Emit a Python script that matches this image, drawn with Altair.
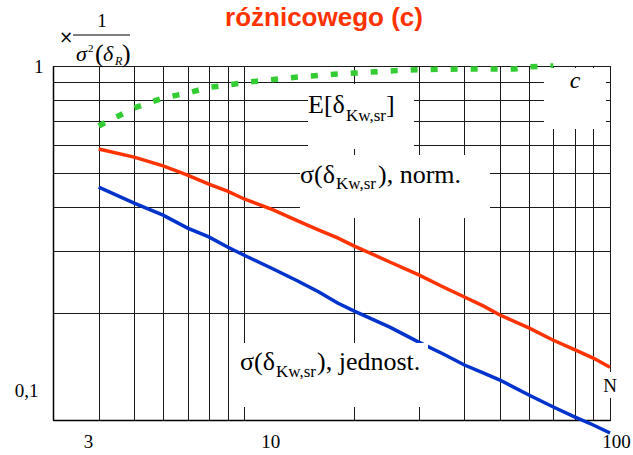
import altair as alt
import pandas as pd

# Number of samples N at which the standard-deviation curves are evaluated
N = [4, 5, 6, 7, 8, 9, 10, 12, 14, 16, 18, 20, 25, 30, 35, 40, 45, 50, 60, 70, 80, 90, 100]
sigma_norm = [0.583, 0.553, 0.522, 0.492, 0.464, 0.443, 0.421, 0.392, 0.365, 0.344, 0.327,
              0.310, 0.2795, 0.257, 0.2376, 0.2226, 0.210, 0.198, 0.182, 0.168, 0.158, 0.1496, 0.141]
sigma_jednost = [0.455, 0.410, 0.379, 0.3485, 0.329, 0.308, 0.292, 0.267, 0.247, 0.230, 0.214,
                 0.203, 0.183, 0.166, 0.1536, 0.143, 0.1358, 0.1297, 0.1177, 0.1088, 0.1020, 0.0968, 0.0919]

# Mean value curve
N_mean = [4, 5, 6, 7, 8, 9, 10, 12, 14, 16, 18, 20, 25, 30, 40, 50, 55, 60, 70]
mean_E = [0.677, 0.761, 0.812, 0.839, 0.870, 0.884, 0.898, 0.916, 0.931, 0.940, 0.949,
          0.955, 0.968, 0.977, 0.981, 0.981, 0.981, 0.995, 1.0]

# Grid positions and the labelled ticks
x_grid = [3, 4, 5, 6, 7, 8, 9, 10, 20, 30, 40, 50, 60, 70, 80, 90, 100]
y_grid = [0.1, 0.2, 0.3, 0.4, 0.5, 0.6, 0.7, 0.8, 0.9, 1.0]

W, H = 557, 354          # plot area
OX, OY = 53, 66          # plot origin on the page
SERIF = "Liberation Serif"

x_scale = alt.Scale(type="log", domain=[3, 100], nice=False)
y_scale = alt.Scale(type="log", domain=[0.1, 1], nice=False)

x_axis = alt.Axis(
    values=x_grid, title=None, grid=True, ticks=False,
    gridColor="#1a1a1a", gridWidth=1, gridOpacity=1,
    domainColor="black", domainWidth=1.5,
    labelExpr="datum.value == 3 || datum.value == 10 || datum.value == 100 ? datum.label : ''",
    format="d", labelFont=SERIF, labelFontSize=19, labelColor="black",
    labelPadding=12, labelBaseline="top", labelFlush=False, labelOverlap=False, labelBound=False,
    labelOffset={"condition": [{"test": "datum.value == 3", "value": 35},
                               {"test": "datum.value == 10", "value": 26}],
                 "value": 6},
)
y_axis = alt.Axis(
    values=y_grid, title=None, grid=True, ticks=False,
    gridColor="#1a1a1a", gridWidth=1, gridOpacity=1,
    domainColor="black", domainWidth=1.5,
    labelExpr="datum.value == 1 ? '1' : (datum.value == 0.1 ? '0,1' : '')",
    labelFont=SERIF, labelFontSize=19, labelColor="black",
    labelBaseline="middle", labelFlush=False, labelOverlap=False, labelBound=False,
    labelPadding={"condition": {"test": "datum.value == 1", "value": 10}, "value": 15},
    labelOffset={"condition": {"test": "datum.value == 1", "value": 0}, "value": -30},
)

x_enc = alt.X("N:Q", scale=x_scale, axis=x_axis)
y_enc = alt.Y("v:Q", scale=y_scale, axis=y_axis)


def curve(ns, vs, color, width, dash=None):
    df = pd.DataFrame({"N": ns, "v": vs})
    kw = dict(color=color, strokeWidth=width, clip=False)
    if dash:
        kw["strokeDash"] = dash
        kw["strokeCap"] = "butt"
    return alt.Chart(df).mark_line(**kw).encode(x=x_enc, y=y_enc)


one = pd.DataFrame({"k": [0]})


def txt(s, x, y, size=26, style="normal", weight="normal", font=SERIF,
        align="left", baseline="alphabetic", color="black"):
    return alt.Chart(one).mark_text(
        text=s, font=font, fontSize=size, fontStyle=style, fontWeight=weight,
        align=align, baseline=baseline, color=color,
    ).encode(x=alt.value(x - OX), y=alt.value(y - OY))


def box(x1, y1, x2, y2):
    return alt.Chart(one).mark_rect(fill="white", stroke=None).encode(
        x=alt.value(x1 - OX), x2=alt.value(x2 - OX),
        y=alt.value(y1 - OY), y2=alt.value(y2 - OY))


lines = [
    curve(N, sigma_norm, "#ff3300", 3.5),
    curve(N, sigma_jednost, "#0033cc", 3.5),
    curve(N_mean, mean_E, "#33cc33", 5.5, dash=[7, 13]),
]

# white label backgrounds
boxes = [
    box(308, 84, 414, 149),
    box(300, 155, 490, 218),
    box(235, 343, 428, 407),
    box(544, 68, 606, 129),
    box(597, 372, 622, 398),
]

labels = [
    # curve labels
    txt("E[δ", 308, 113),
    txt("Kw,sr", 346, 121, size=17),
    txt("]", 386, 113),
    txt("σ(δ", 300, 183),
    txt("Kw,sr", 336, 189, size=17),
    txt("), norm.", 378, 183),
    txt("σ(δ", 240, 370),
    txt("Kw,sr", 276, 377, size=17),
    txt("), jednost.", 317, 370),
    txt("c", 575, 88, size=24, style="italic", align="center"),
    txt("N", 610, 392, size=19, align="center"),
    # title
    txt("różnicowego (c)", 324, 26, size=26, weight="bold", font="Liberation Sans",
        align="center", color="#ff3300"),
    # y-axis unit: × 1 / σ²(δ_R)
    txt("×", 66, 38, size=17, font="DejaVu Sans", align="center", baseline="middle"),
    txt("1", 102, 27, size=19, align="center"),
    txt("σ", 76, 61, size=22, style="italic"),
    txt("2", 88, 52, size=11),
    txt("(", 95, 62, size=26),
    txt("δ", 103, 61, size=22, style="italic"),
    txt("R", 115, 65, size=12, style="italic"),
    txt(")", 122, 62, size=26),
]

frac_bar = alt.Chart(one).mark_rule(color="black", strokeWidth=1).encode(
    x=alt.value(73 - OX), x2=alt.value(130 - OX), y=alt.value(35 - OY))

chart = alt.layer(*lines, *boxes, *labels, frac_bar).properties(
    width=W, height=H,
    autosize=alt.AutoSizeParams(type="none"),
    padding={"left": OX, "top": OY, "right": 633 - OX - W, "bottom": 455 - OY - H},
    background="white",
).configure_view(stroke="black", strokeWidth=1)

chart.save("out.html", embed_options={"renderer": "svg", "actions": False})
